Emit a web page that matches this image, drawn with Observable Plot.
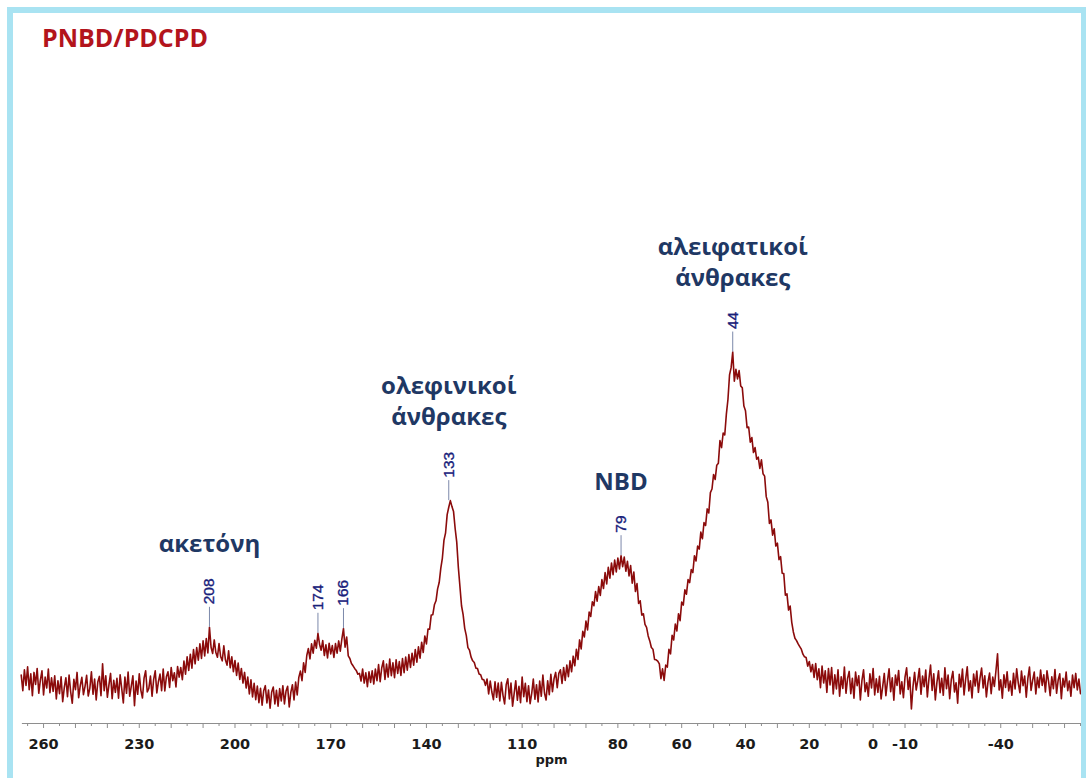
<!DOCTYPE html>
<html><head><meta charset="utf-8">
<script src="https://cdn.jsdelivr.net/npm/d3@7"></script>
<script src="https://cdn.jsdelivr.net/npm/@observablehq/plot@0.6"></script>
<style>
html,body{margin:0;padding:0;background:#fff;width:1086px;height:778px;overflow:hidden;}
#chart{position:absolute;left:0;top:0;}
#frame{position:absolute;left:7px;top:7px;right:0;bottom:-30px;border:6px solid #a9e3f2;border-right-width:5px;pointer-events:none;}
#title{position:absolute;left:42px;top:25px;font:700 25px "Open Sans";line-height:1;color:#b3141c;white-space:nowrap;}
</style></head><body>
<div id="chart"></div>
<div id="frame"></div>
<div id="title">PNBD/PDCPD</div>
<script>
const ppmStart = 267;
const ppmStep = -0.5;
const intensity = [
 2.6,-2.1,4.2,-0.5,5.1,-1.8,3.0,-3.6,3.4,-0.2,4.6,-2.9,1.1,3.9,-3.4,2.0,-1.3,4.4,-2.7,1.8,
 -2.3,2.4,-4.6,0.9,-3.0,2.1,-5.4,-1.2,1.8,-3.9,2.6,-2.5,-5.9,1.3,-1.8,3.4,-4.2,-0.6,1.9,-3.3,
 -0.8,2.5,-3.7,-1.4,3.6,-3.2,1.4,-4.9,0.5,2.2,-3.6,6.0,-2.1,2.4,-4.1,-0.3,3.1,-4.5,1.0,-2.6,
 1.6,-4.4,2.7,-1.5,-5.8,2.0,-2.9,3.5,-3.8,-0.7,2.4,-6.6,0.8,-3.2,3.0,-2.0,-4.3,1.7,3.9,-2.5,
 -1.4,2.3,-3.8,1.2,3.9,-2.8,0.6,2.9,-2.1,4.4,-2.2,2.1,3.6,-1.1,4.9,0.9,3.3,-1.0,5.2,2.0,
 4.9,1.2,6.8,2.9,8.1,4.0,8.9,4.7,10.3,6.0,10.9,7.1,12.0,7.6,12.9,8.4,13.6,9.3,17.0,11.0,
 9.1,13.2,9.4,8.0,12.1,8.2,6.9,11.4,7.2,5.6,9.9,4.8,8.1,3.6,7.0,2.5,6.2,1.3,4.6,0.2,
 3.4,-1.3,2.0,-3.1,1.2,-4.0,0.1,-4.8,-0.7,-5.7,-1.4,-6.5,-2.1,-0.6,-5.8,-1.9,-7.4,-2.5,-1.0,-6.1,
 -2.0,-6.8,-1.5,-5.2,-0.6,-6.1,-2.2,-0.8,-7.0,-2.6,-0.3,-4.9,0.5,-3.4,1.9,3.8,0.9,6.3,3.4,8.5,
 10.6,7.5,12.0,9.2,13.1,10.7,15.2,11.9,10.1,13.0,8.5,11.7,7.8,12.2,9.0,11.5,7.9,12.1,9.2,12.9,
 9.8,13.5,16.6,11.0,14.1,8.4,7.6,6.1,5.4,4.6,4.0,2.9,3.1,0.8,4.4,0.2,3.3,-0.9,3.6,0.4,
 3.9,-0.1,4.4,0.9,5.8,0.6,4.8,6.9,1.3,5.9,2.0,7.4,2.4,6.3,1.8,7.2,3.1,6.7,2.5,7.6,
 3.3,8.0,4.1,8.8,4.9,9.2,5.6,10.3,6.5,11.1,7.7,12.5,9.4,14.4,12.0,16.5,16.4,20.7,20.8,23.8,
 25.0,28.6,30.5,34.8,37.9,43.3,45.5,51.0,53.2,55.2,53.4,51.9,46.8,42.7,35.1,29.3,23.5,20.8,16.7,14.5,
 10.9,10.1,8.0,6.9,6.4,4.7,4.6,2.9,2.7,1.3,1.2,-0.5,1.4,-3.1,0.8,-2.5,-4.8,0.6,-4.1,0.2,
 -5.2,0.4,-3.5,-6.1,-0.3,1.5,-4.6,0.2,-6.8,-2.9,0.9,-5.0,-0.8,-5.7,2.0,-3.9,0.1,-5.4,-0.6,-6.0,
 -2.9,1.4,-4.7,-0.3,-5.5,0.8,-3.8,2.6,-2.8,-4.9,0.9,-3.3,2.8,-2.4,1.5,3.4,-1.2,3.1,4.2,0.1,
 4.9,1.0,5.6,2.1,6.9,3.6,8.3,5.4,10.4,7.3,13.2,10.5,15.8,14.1,18.9,16.2,21.6,20.3,24.7,23.5,
 27.8,24.9,29.3,26.6,31.4,28.7,33.5,30.1,35.1,31.8,36.4,32.9,37.3,33.7,37.9,34.6,38.6,35.3,38.2,33.9,
 36.9,32.5,35.6,30.3,33.7,27.8,30.2,24.2,25.0,20.7,21.1,17.9,17.0,14.4,12.9,10.9,10.4,7.3,7.2,6.8,
 6.0,1.5,4.5,1.0,5.6,5.0,10.4,9.0,14.6,13.2,18.0,15.9,21.1,19.0,24.6,23.7,28.3,27.0,31.4,30.5,
 34.4,33.5,38.6,37.0,41.5,40.6,45.7,43.7,48.6,47.7,52.7,51.5,57.6,58.7,63.1,61.6,65.9,66.5,73.3,71.2,
 75.6,75.0,81.2,85.7,93.1,95.3,100.0,91.2,94.8,91.9,94.4,89.8,89.2,83.7,82.3,77.2,77.4,72.8,74.2,69.7,
 71.2,67.7,68.3,64.9,67.5,63.3,62.6,56.4,54.7,48.3,49.4,44.8,46.7,41.5,42.4,37.4,38.3,33.3,33.2,26.7,
 27.1,22.2,23.4,18.5,15.6,13.7,13.0,12.0,11.2,10.4,8.9,8.1,7.9,5.3,6.7,3.6,5.8,1.9,6.1,1.2,
 4.5,-1.2,5.3,0.2,3.9,-2.6,4.6,-0.4,4.9,-3.1,2.7,-1.6,4.2,-3.8,2.1,-1.4,5.0,-2.9,1.6,3.7,
 -3.0,1.6,-4.4,3.5,-0.6,2.4,-4.9,1.0,4.2,-2.4,0.3,-3.8,3.0,-1.3,4.6,-3.4,1.5,-2.6,2.2,-4.6,
 -0.9,3.1,-3.6,0.7,4.5,-2.4,1.8,-5.0,2.6,-0.5,4.0,-3.1,0.6,-4.2,2.0,4.8,-1.7,1.9,-7.6,-0.9,
 3.4,-1.9,1.0,4.6,-3.2,2.3,-0.9,4.1,-4.0,1.5,5.6,-2.0,3.0,-4.9,0.4,3.9,-2.7,1.6,-3.5,4.8,
 -1.5,2.6,-4.5,1.2,3.7,-2.5,0.3,-5.9,2.8,-1.0,4.4,-3.4,1.3,5.1,-2.2,0.9,-4.3,2.9,-0.7,3.8,
 -2.6,1.7,4.7,-1.3,2.4,-4.0,0.5,3.2,-3.0,2.0,-0.8,3.9,9.0,-1.9,1.2,-4.4,2.7,-1.1,3.6,-2.2,
 0.8,-3.5,3.1,-1.6,4.5,0.2,-2.7,3.8,-0.6,2.3,-4.1,1.5,5.0,-2.0,1.0,3.5,-3.1,1.9,-1.2,4.1,
 -0.5,2.7,-2.5,3.9,0.6,-3.6,2.1,-1.5,4.3,-2.9,1.1,3.0,-4.5,1.6,-1.0,3.5,-2.1,0.8,-3.8,2.6,
 -1.2,3.1,-1.9,1.4,-3.0
];

// peak picks
const peakPpm = [208, 174, 166, 133, 79, 44];
const peakLabels = ["208", "174", "166", "133", "79", "44"];

// region annotations (each attached to a peak)
const annotText = ["ακετόνη", "ολεφινικοί\nάνθρακες", "NBD", "αλειφατικοί\nάνθρακες"];
const annotPeak = [208, 133, 79, 44];

// axis tick labels
const tickValues = [260, 230, 200, 170, 140, 110, 80, 60, 40, 20, 0, -10, -40];
const tickLabels = ["260", "230", "200", "170", "140", "110", "80", "60", "40", "20", "0", "-10", "-40"];

const spectrum = intensity.map((v, i) => ({ppm: ppmStart + i * ppmStep, v}));
const topAt = p => d3.max(spectrum.filter(d => Math.abs(d.ppm - p) <= 0.75), d => d.v);
const peaks = peakPpm.map((p, i) => ({ppm: p, label: peakLabels[i], top: topAt(p)}));

const H = 778, MB = 55, MT = 0;
const yDomain = [-12, 206];
const pxPerUnit = (H - MB - MT) / (yDomain[1] - yDomain[0]);
const ruleLen = 20;

const annots = annotText.map((t, i) => {
  const pk = peaks.find(d => d.ppm === annotPeak[i]);
  const offPx = ruleLen + 3 + pk.label.length * 9.5 + 24;
  return {text: t, ppm: pk.ppm, y: pk.top + offPx / pxPerUnit};
});

const labelMap = new Map(tickValues.map((v, i) => [v, tickLabels[i]]));
const majorTicks = d3.range(-60, 261, 10);
const minorTicks = d3.range(-65, 266, 5).filter(v => v % 10 !== 0);

const chart = Plot.plot({
  width: 1086,
  height: H,
  marginLeft: 22,
  marginRight: 6,
  marginTop: MT,
  marginBottom: MB,
  style: {background: "transparent", overflow: "visible"},
  x: {domain: [266.6, -65], axis: null},
  y: {domain: yDomain, axis: null},
  marks: [
    Plot.frame({anchor: "bottom", stroke: "#8e8e8e", strokeWidth: 1.2}),
    Plot.axisX({ticks: minorTicks, tickSize: 3, tickFormat: () => "", label: null, stroke: "#8e8e8e"}),
    Plot.axisX({ticks: majorTicks, tickSize: 5, tickPadding: 10, label: null, stroke: "#8e8e8e", fill: "#1b1b1b",
      tickFormat: d => labelMap.get(d) ?? "", fontFamily: "DejaVu Sans", fontWeight: "bold", fontSize: 14.5}),
    Plot.text(["ppm"], {frameAnchor: "bottom", dy: 31, lineAnchor: "top", fontFamily: "DejaVu Sans",
      fontWeight: "bold", fontSize: 13, fill: "#1b1b1b"}),
    Plot.line(spectrum, {x: "ppm", y: "v", stroke: "#8b0b0b", strokeWidth: 1.6}),
    Plot.ruleX(peaks, {x: "ppm", y1: "top", y2: d => d.top + ruleLen / pxPerUnit, stroke: "#7c88aa", strokeWidth: 1}),
    Plot.text(peaks, {x: "ppm", y: "top", text: "label", rotate: -90, textAnchor: "start", dy: -(ruleLen + 3),
      fontFamily: "Liberation Sans", fontSize: 15.5, fill: "#18207a", stroke: "#18207a", strokeWidth: 0.35}),
    Plot.text(annots, {x: "ppm", y: "y", text: "text", lineAnchor: "bottom", lineHeight: 1.3,
      fontFamily: "Open Sans", fontWeight: 700, fontSize: 24, fill: "#1f3864"})
  ]
});
document.getElementById("chart").appendChild(chart);
</script></body></html>
